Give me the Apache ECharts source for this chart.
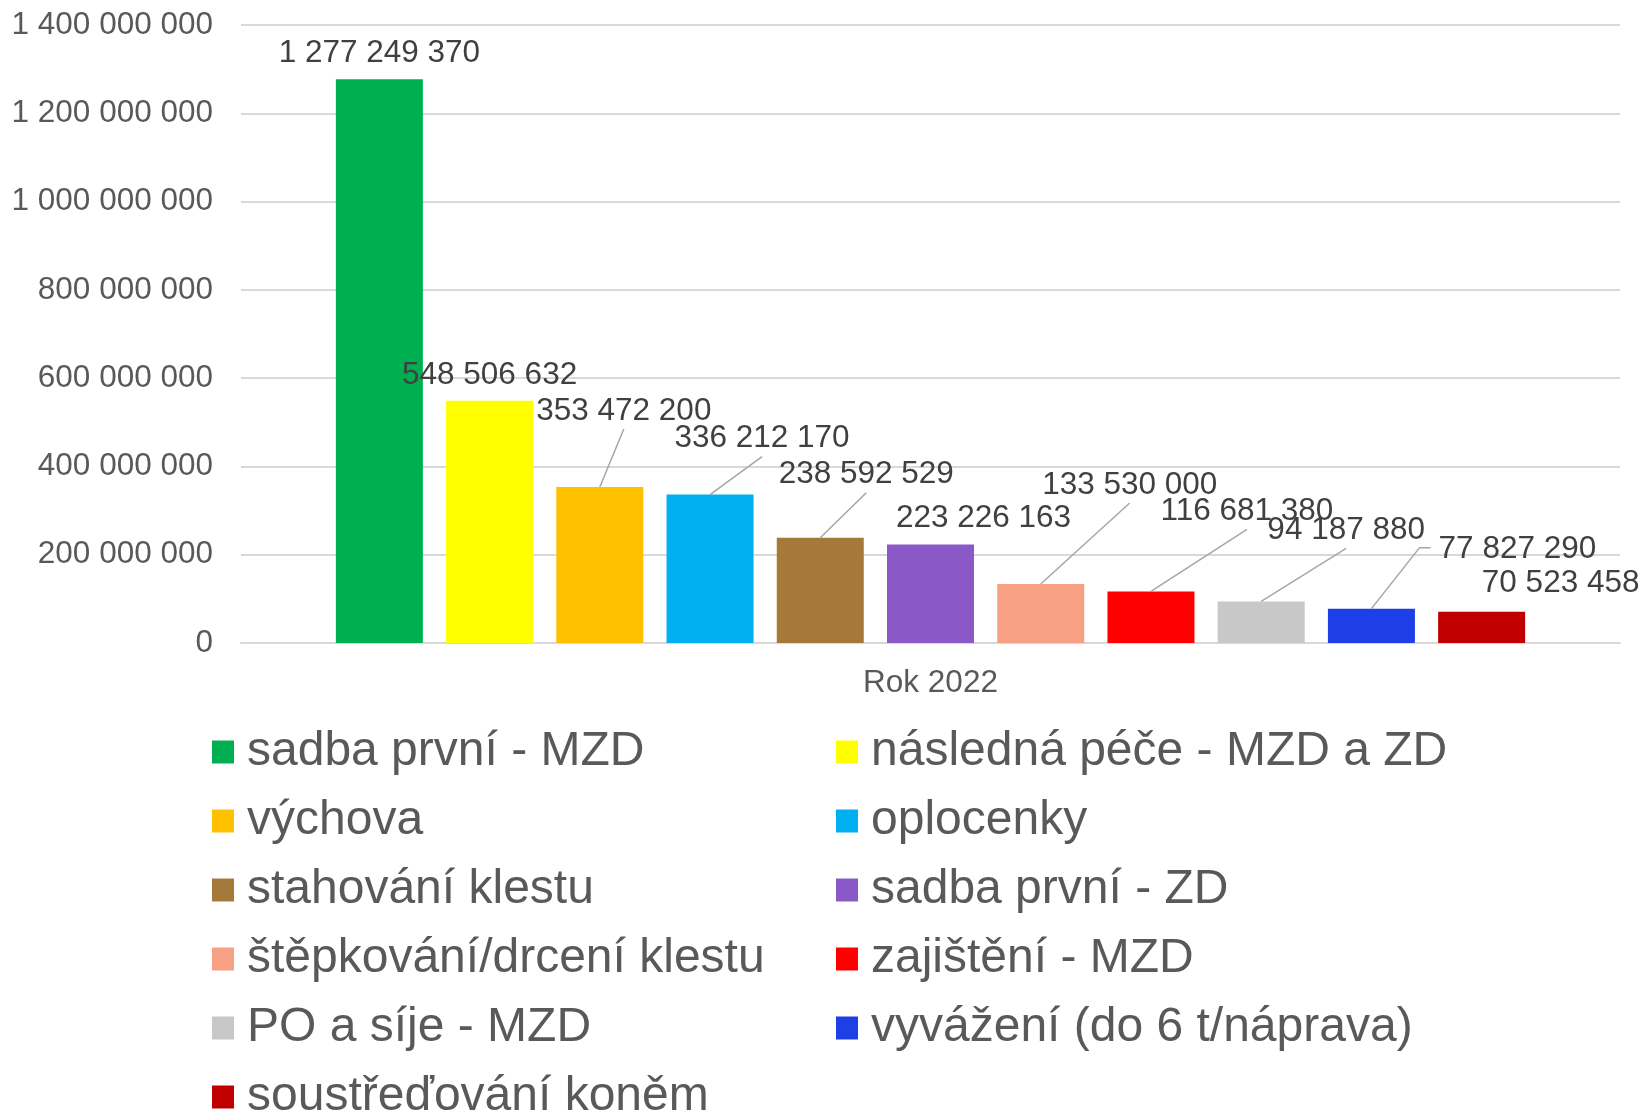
<!DOCTYPE html>
<html>
<head>
<meta charset="utf-8">
<title>Rok 2022</title>
<script src="https://cdn.jsdelivr.net/npm/echarts@6/dist/echarts.min.js"></script>
<style>
  html, body { margin: 0; padding: 0; background: #fff; }
  #chart { width: 1644px; height: 1111px; }
</style>
</head>
<body>
<div id="chart"></div>
<script>
const categories = ['Rok 2022']
const seriesNames = [
  'sadba první - MZD',
  'následná péče - MZD a ZD',
  'výchova',
  'oplocenky',
  'stahování klestu',
  'sadba první - ZD',
  'štěpkování/drcení klestu',
  'zajištění - MZD',
  'PO a síje - MZD',
  'vyvážení (do 6 t/náprava)',
  'soustřeďování koněm'
]
const values = [
  1277249370, 548506632, 353472200, 336212170, 238592529, 223226163,
  133530000, 116681380, 94187880, 77827290, 70523458
]
const yTicks = { min: 0, max: 1400000000, interval: 200000000 }

// styling / layout, kept apart from the data
const colors = [
  '#00B050', '#FFFF00', '#FFC000', '#00B0F0', '#A5793A', '#8B59C7',
  '#F8A084', '#FF0000', '#C8C8C8', '#1F3FE6', '#C00000'
]
// where Excel moved each data label (dx, dy from the default top position)
const labelShift = [
  [0, 0], [0, 0], [24, -50], [52, -30], [46, -37], [53, 0],
  [89, -73], [96, -54], [85, -45], [146, -33], [79, -3]
]
// leader line: none, to label bottom, or to label left side
const leader = ['', '', 'b', 'b', 'b', '', 'b', 'b', 'b', 'l', '']

const font = 'Liberation Sans, Arial, sans-serif'
const labelSize = 31.5
const labelDist = 10
const fmt = v => String(v).replace(/\B(?=(\d{3})+(?!\d))/g, ' ')

const chart = echarts.init(document.getElementById('chart'))

const series = seriesNames.map((name, i) => ({
  name: name,
  type: 'bar',
  data: [values[i]],
  barWidth: 87,
  barGap: '26.7%',
  itemStyle: { color: colors[i] },
  label: {
    show: true,
    position: 'top',
    distance: labelDist,
    formatter: p => fmt(p.value),
    color: '#404040',
    fontSize: labelSize,
    fontFamily: font
  },
  labelLayout: { dx: labelShift[i][0], dy: labelShift[i][1] }
}))

const legendCommon = {
  orient: 'vertical',
  itemWidth: 22,
  itemHeight: 23,
  itemGap: 21,
  icon: 'rect',
  selectedMode: false,
  textStyle: {
    color: '#595959',
    fontSize: 48,
    lineHeight: 46,
    fontFamily: font,
    padding: [0, 0, 0, 8]
  }
}

const options = {
  animation: false,
  backgroundColor: '#fff',
  color: colors,
  grid: { left: 241, right: 24, top: 25, bottom: 468 },
  legend: [
    Object.assign({}, legendCommon, {
      left: 207,
      top: 723,
      data: seriesNames.filter((n, i) => i % 2 === 0 && i < 10)
    }),
    Object.assign({}, legendCommon, {
      left: 831,
      top: 723,
      data: seriesNames.filter((n, i) => i % 2 === 1)
    }),
    Object.assign({}, legendCommon, {
      left: 207,
      top: 723 + 5 * 69,
      data: [seriesNames[10]]
    })
  ],
  xAxis: {
    type: 'category',
    data: categories,
    axisLine: { lineStyle: { color: '#d9d9d9', width: 2 } },
    axisTick: { show: false },
    axisLabel: {
      color: '#595959',
      fontSize: 31.5,
      fontFamily: font,
      margin: 24
    }
  },
  yAxis: {
    type: 'value',
    min: yTicks.min,
    max: yTicks.max,
    interval: yTicks.interval,
    axisLine: { show: false },
    axisTick: { show: false },
    axisLabel: {
      color: '#595959',
      fontSize: 31.5,
      fontFamily: font,
      margin: 28,
      formatter: v => fmt(v)
    },
    splitLine: { lineStyle: { color: '#d9d9d9', width: 2 } }
  },
  series: series
}
chart.setOption(options)

// leader lines like Excel: from the top middle of the bar to the moved label
const ctx = document.createElement('canvas').getContext('2d')
ctx.font = labelSize + 'px ' + font
const lines = []
seriesNames.forEach((n, i) => {
  if (!leader[i]) return
  const lay = chart.getModel().getSeriesByIndex(i).getData().getItemLayout(0)
  const cx = lay.x + lay.width / 2
  const top = Math.min(lay.y, lay.y + lay.height)
  const lx = cx + labelShift[i][0]
  const bottom = top - labelDist + labelShift[i][1]
  let pts
  if (leader[i] === 'b') {
    pts = [[cx, top], [lx, bottom + 2]]
  } else {
    const left = lx - ctx.measureText(fmt(values[i])).width / 2
    const my = bottom - 18
    pts = [[cx, top], [left - 19, my], [left - 8, my]]
  }
  lines.push({
    type: 'polyline',
    silent: true,
    z: 100,
    shape: { points: pts },
    style: { stroke: '#a6a6a6', lineWidth: 1.5, fill: null }
  })
})
chart.setOption({ graphic: lines })
</script>
</body>
</html>
